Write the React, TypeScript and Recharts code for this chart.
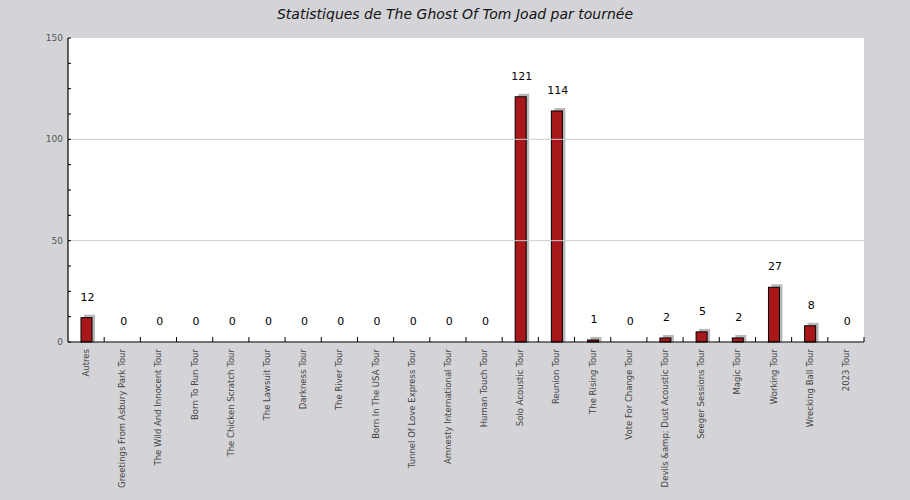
import React from 'react';
import { Bar, BarChart, CartesianGrid, LabelList, ReferenceLine, XAxis, YAxis } from 'recharts';

// Tournées et nombre d'interprétations
const tours = [
  'Autres',
  'Greetings From Asbury Park Tour',
  'The Wild And Innocent Tour',
  'Born To Run Tour',
  'The Chicken Scratch Tour',
  'The Lawsuit Tour',
  'Darkness Tour',
  'The River Tour',
  'Born In The USA Tour',
  'Tunnel Of Love Express Tour',
  'Amnesty International Tour',
  'Human Touch Tour',
  'Solo Acoustic Tour',
  'Reunion Tour',
  'The Rising Tour',
  'Vote For Change Tour',
  'Devils &amp; Dust Acoustic Tour',
  'Seeger Sessions Tour',
  'Magic Tour',
  'Working Tour',
  'Wrecking Ball Tour',
  '2023 Tour',
];
const counts = [12, 0, 0, 0, 0, 0, 0, 0, 0, 0, 0, 0, 121, 114, 1, 0, 2, 5, 2, 27, 8, 0];

const yTicks = [0, 12.5, 25, 37.5, 50, 62.5, 75, 87.5, 100, 112.5, 125, 137.5, 150];
const yLabelled = [0, 50, 100, 150];
const gridValues = [50, 100];

const data = tours.map((tour, i) => ({ tour, count: counts[i] }));

const W = 910;
const H = 500;
const M = { top: 38, right: 46, left: 0, bottom: 0 };
const Y_W = 68;
const X_H = 158;
const BAND = (W - M.right - Y_W) / tours.length;

function YTick(props: any) {
  const { x, y, payload } = props;
  const ax = x + 5;
  return (
    <g>
      <line x1={ax} x2={ax + 3} y1={y} y2={y} stroke="#000" strokeWidth={1} />
      {yLabelled.includes(payload.value) && (
        <text x={x} y={y} dy={3} textAnchor="end" fontSize={9} fill="#555" fontFamily="DejaVu Sans">
          {payload.value}
        </text>
      )}
    </g>
  );
}

function XTick(props: any) {
  const { x, payload } = props;
  const axisY = H - X_H;
  const edge = x + BAND / 2;
  const ty = axisY + 7;
  return (
    <g>
      <line x1={edge} x2={edge} y1={axisY} y2={axisY - 5} stroke="#000" strokeWidth={1} />
      <text
        x={x}
        y={ty}
        textAnchor="end"
        dominantBaseline="central"
        transform={`rotate(-90, ${x}, ${ty})`}
        fontSize={8.5}
        fill="#444"
        fontFamily="DejaVu Sans"
      >
        {payload.value}
      </text>
    </g>
  );
}

function ShadowBar(props: any) {
  const { x, y, width, height } = props;
  if (!height || height <= 0) return null;
  return (
    <g>
      <rect x={x + 3} y={y - 3} width={width} height={height + 3} fill="#b8b8b8" />
      <rect x={x} y={y} width={width} height={height} fill="#a8181a" stroke="#000" strokeWidth={1} />
    </g>
  );
}

function ValueLabel(props: any) {
  const { x, y, width, value } = props;
  return (
    <text
      x={x + width / 2 + 1}
      y={y - 17}
      textAnchor="middle"
      fontSize={11}
      fill="#000"
      fontFamily="DejaVu Sans"
    >
      {value}
    </text>
  );
}

export default function App() {
  return (
    <div style={{ position: 'absolute', left: 0, top: 0, width: W, height: H, background: '#d4d4d8' }}>
      <div
        style={{
          position: 'absolute',
          top: 6,
          left: 0,
          width: W,
          textAlign: 'center',
          fontFamily: 'DejaVu Sans',
          fontStyle: 'italic',
          fontSize: 14,
          color: '#111',
        }}
      >
        Statistiques de The Ghost Of Tom Joad par tournée
      </div>
      <BarChart width={W} height={H} data={data} margin={M} barCategoryGap={0}>
        <CartesianGrid horizontal={false} vertical={false} fill="#fff" fillOpacity={1} stroke="none" />
        {gridValues.map((v) => (
          <ReferenceLine key={v} y={v} stroke="#cccccc" strokeWidth={1} />
        ))}
        <XAxis
          dataKey="tour"
          interval={0}
          height={X_H}
          tick={<XTick />}
          tickLine={false}
          axisLine={{ stroke: '#000', strokeWidth: 1.2 }}
        />
        <YAxis
          domain={[0, 150]}
          ticks={yTicks}
          width={Y_W}
          tickSize={0}
          tickMargin={5}
          tickLine={false}
          tick={<YTick />}
          axisLine={{ stroke: '#000', strokeWidth: 1.2 }}
          allowDecimals
        />
        <Bar dataKey="count" barSize={11} shape={<ShadowBar />} isAnimationActive={false}>
          <LabelList dataKey="count" content={<ValueLabel />} />
        </Bar>
      </BarChart>
    </div>
  );
}
